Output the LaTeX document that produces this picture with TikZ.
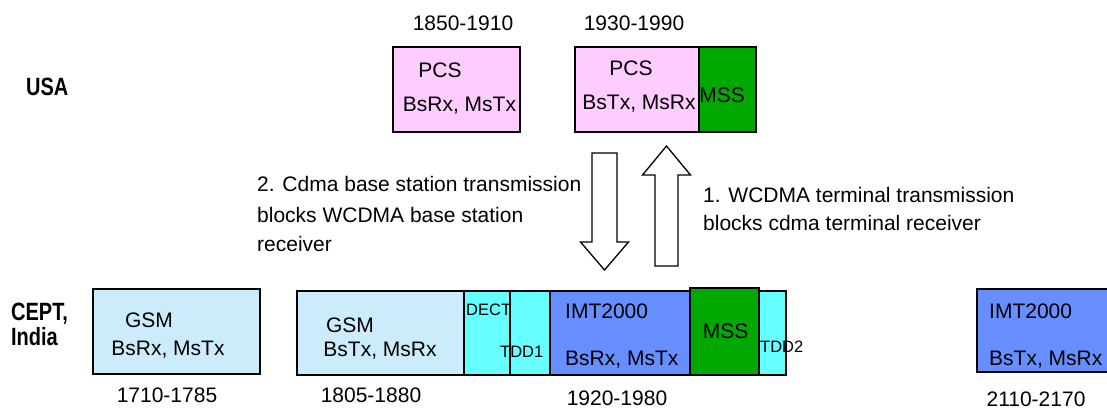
\documentclass[tikz,border=0pt]{standalone}
\usepackage{fontspec}
\setmainfont{Liberation Sans}
\definecolor{pinkc}{RGB}{255,204,255}
\definecolor{mssgreen}{RGB}{0,168,0}
\definecolor{gsmblue}{RGB}{204,236,252}
\definecolor{tddcyan}{RGB}{102,255,255}
\definecolor{imtblue}{RGB}{102,142,255}
\begin{document}
\begin{tikzpicture}[x=1pt,y=-1pt,
  band/.style={draw=black,line width=1.7pt,rectangle,inner sep=0pt,anchor=north west},
  lbl/.style={inner sep=0pt,font=\fontsize{21}{25}\selectfont},
  small/.style={inner sep=0pt,font=\fontsize{16.5}{20}\selectfont},
  region/.style={inner sep=0pt,font=\fontsize{25}{30}\selectfont\bfseries,xscale=0.8,anchor=base west},
  blockarrow/.style={draw=black,line width=1.3pt,fill=white,line join=miter}]
\useasboundingbox (0,0) rectangle (1107,410);

% region labels
\node[region] (usa) at (26,95) {USA};
\node[region] (cept) at (11,320) {CEPT,};
\node[region] (india) at (11,345) {India};

% USA PCS bands
\node[band,fill=pinkc,minimum width=127pt,minimum height=85pt] (pcsA) at (392,46) {};
\node[band,fill=pinkc,minimum width=124pt,minimum height=85pt] (pcsB) at (574,46) {};
\node[band,fill=mssgreen,minimum width=57pt,minimum height=85pt] (mssA) at (698,46) {};
\node[lbl,anchor=base] (fA) at (463,30.5) {1850-1910};
\node[lbl,anchor=base] (fB) at (634,30.5) {1930-1990};
\node[lbl,anchor=base] (pcsAt) at (440,77) {PCS};
\node[lbl,anchor=base] (pcsAd) at (459.5,111) {BsRx, MsTx};
\node[lbl,anchor=base] (pcsBt) at (631,75) {PCS};
\node[lbl,anchor=base] (pcsBd) at (639,109) {BsTx, MsRx};
\node[lbl,anchor=base] (mssAt) at (722,102) {MSS};

% CEPT / India bands
\node[band,fill=gsmblue,minimum width=167pt,minimum height=85pt] (gsmA) at (92,288) {};
\node[band,fill=gsmblue,minimum width=167pt,minimum height=84pt] (gsmB) at (296,290) {};
\node[band,fill=tddcyan,minimum width=46pt,minimum height=84pt] (dect) at (463,290) {};
\node[band,fill=tddcyan,minimum width=40pt,minimum height=84pt] (tddA) at (509,290) {};
\node[band,fill=imtblue,minimum width=140pt,minimum height=84pt] (imtA) at (549,290) {};
\node[band,fill=tddcyan,minimum width=27pt,minimum height=84pt] (tddB) at (758,290) {};
\node[band,fill=mssgreen,minimum width=69pt,minimum height=87pt] (mssB) at (689,287) {};
\node[band,fill=imtblue,minimum width=131pt,minimum height=83pt] (imtB) at (976,288) {};

\node[lbl,anchor=base] (gsmAt) at (149,327) {GSM};
\node[lbl,anchor=base] (gsmAd) at (168,355) {BsRx, MsTx};
\node[lbl,anchor=base] (fC) at (167,402) {1710-1785};
\node[lbl,anchor=base] (gsmBt) at (350,332) {GSM};
\node[lbl,anchor=base] (gsmBd) at (380,356) {BsTx, MsRx};
\node[lbl,anchor=base] (fD) at (371,402) {1805-1880};
\node[small,anchor=base west] (dectt) at (466,315) {DECT};
\node[small,anchor=base west] (tddAt) at (500,357) {TDD1};
\node[lbl,anchor=base west] (imtAt) at (565,318) {IMT2000};
\node[lbl,anchor=base west] (imtAd) at (565,365) {BsRx, MsTx};
\node[lbl,anchor=base] (mssBt) at (725.5,338) {MSS};
\node[small,anchor=base west] (tddBt) at (760,352) {TDD2};
\node[lbl,anchor=base] (fE) at (617,405) {1920-1980};
\node[lbl,anchor=base west] (imtBt) at (989,318) {IMT2000};
\node[lbl,anchor=base west] (imtBd) at (989,365) {BsTx, MsRx};
\node[lbl,anchor=base] (fF) at (1036,406) {2110-2170};

% interference directions
\draw[blockarrow] (592,153) -- (617,153) -- (617,242) -- (628.5,242) -- (604.5,270)
  -- (580.5,242) -- (592,242) -- cycle;
\draw[blockarrow] (655,266) -- (678,266) -- (678,175) -- (690.5,175) -- (666.5,146)
  -- (642.5,175) -- (655,175) -- cycle;

\node[lbl,anchor=base west] (noteA1) at (257,191) {2. Cdma base station transmission};
\node[lbl,anchor=base west] (noteA2) at (257,222) {blocks WCDMA base station};
\node[lbl,anchor=base west] (noteA3) at (257,251) {receiver};
\node[lbl,anchor=base west] (noteB1) at (703,202) {1. WCDMA terminal transmission};
\node[lbl,anchor=base west] (noteB2) at (703,230) {blocks cdma terminal receiver};
\end{tikzpicture}
\end{document}
